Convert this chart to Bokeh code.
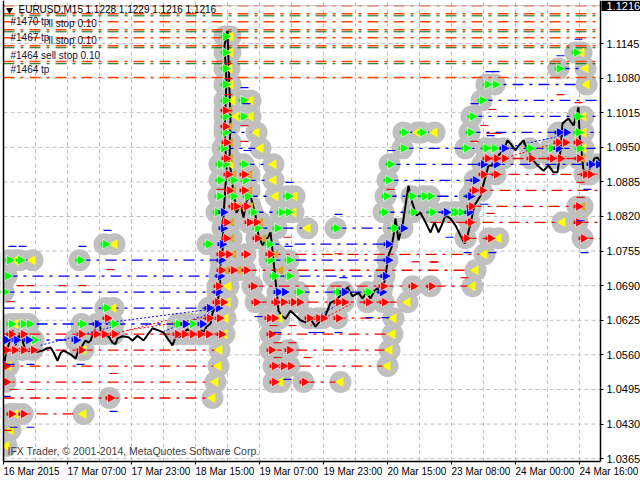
from bokeh.plotting import figure
from bokeh.models import FixedTicker, Label, Range1d
from bokeh.embed import file_html
from bokeh.resources import INLINE

symbol_text = "EURUSD,M15"
ohlc_text = "1.1228 1.1229 1.1216 1.1216"
footer_text = "IFX Trader, \u00a9 2001-2014, MetaQuotes Software Corp."
y_ticks = [1.1145,1.1080,1.1015,1.0950,1.0885,1.0820,1.0755,1.0690,1.0625,1.0560,1.0495,1.0430,1.0365]
x_tick_pos = [3,67,131,195,259,323,387,451,515,579]
x_tick_labels = ["16 Mar 2015","17 Mar 07:00","17 Mar 23:00","18 Mar 15:00","19 Mar 07:00","19 Mar 23:00","20 Mar 15:00","23 Mar 08:00","24 Mar 00:00","24 Mar 16:00"]
x_grid = [3,35,67,99,131,163,195,227,259,291,323,355,387,419,451,483,515,547,579]

close_x = [3,5,8,12,15,18,22,25,30,37,42,46,50,53,57,60,63,66,70,75,78,82,85,88,90,94,97,100,103,108,112,115,117,122,128,132,137,143,148,152,158,163,167,172,175,180,187,191,197,201,203,206,210,212,215,217,220,219,222,223,226,224,226,224,227,228,230,229,232,236,240,243,246,250,255,258,262,265,268,270,272,275,278,281,285,290,295,300,305,310,315,320,325,330,335,340,347,352,358,362,366,370,374,377,381,385,388,391,393,395,398,402,405,408,411,416,420,425,430,434,438,441,445,450,455,460,464,467,470,474,480,484,488,494,498,503,507,510,515,518,523,527,533,537,543,548,553,557,560,562,568,573,578,579,581,583,587,590,594,597,600]
close_p = [1.0531,1.0559,1.0578,1.0606,1.0578,1.0596,1.0587,1.0568,1.0568,1.0566,1.0568,1.0572,1.0574,1.0565,1.0549,1.0563,1.0568,1.0565,1.0561,1.0553,1.0568,1.0578,1.0587,1.0583,1.0587,1.0606,1.0625,1.0610,1.0596,1.0595,1.0583,1.0580,1.0591,1.0595,1.0593,1.0587,1.0596,1.0587,1.0600,1.0610,1.0606,1.0602,1.0591,1.0578,1.0593,1.0595,1.0608,1.0604,1.0598,1.0606,1.0602,1.0613,1.0619,1.0638,1.0653,1.0662,1.0687,1.0719,1.0756,1.0822,1.0906,1.0982,1.1075,1.1141,1.1169,1.1113,1.1000,1.0925,1.0878,1.0827,1.0841,1.0818,1.0850,1.0859,1.0822,1.0784,1.0766,1.0775,1.0782,1.0790,1.0756,1.0700,1.0643,1.0634,1.0628,1.0643,1.0634,1.0625,1.0621,1.0628,1.0613,1.0625,1.0634,1.0658,1.0662,1.0672,1.0687,1.0670,1.0677,1.0666,1.0677,1.0666,1.0681,1.0685,1.0672,1.0709,1.0747,1.0762,1.0784,1.0816,1.0775,1.0803,1.0841,1.0878,1.0850,1.0822,1.0827,1.0809,1.0790,1.0809,1.0790,1.0803,1.0822,1.0816,1.0803,1.0784,1.0769,1.0784,1.0807,1.0841,1.0859,1.0888,1.0916,1.0916,1.0935,1.0944,1.0963,1.0957,1.0944,1.0953,1.0963,1.0944,1.0925,1.0916,1.0906,1.0916,1.0903,1.0903,1.0944,1.0995,1.1004,1.0991,1.1025,1.0972,1.0944,1.0906,1.0903,1.0912,1.0929,1.0931,1.0920]

orange_levels = [1.1216,1.1201,1.1186,1.1171,1.1156,1.1141,1.1111,1.1081]
green_levels = [1.1197,1.1167,1.1137,1.1107]

green_rows = [1.1158,1.1128,1.1098,1.1068,1.1038,1.1008,1.0978,1.0948,1.0918,1.0888,1.0858,1.0828,1.0798,1.0768,1.0738,1.0708,1.0678,1.0648,1.0618,1.0588]
green_pos = [[224],[224,575],[224,558],[224,486,494],[224,242,481],[224,242,471,577],[224,403,421,469,577],[222,402,465,485,493,529,550,578],[219,224,243,389],[219,232,244,387],[218,232,246,287,385,411,423,429],[216,252,280,287,383,412,431,452,455,460],[256,276,335,393],[104,207,268],[8,19,79,269,288],[6,273,288],[3,298,337,367],[105],[10,22,28,81,113,177,191],[33]]

blue_rows = [1.0978,1.0948,1.0918,1.0888,1.0858,1.0828,1.0798,1.0768,1.0738,1.0708,1.0678,1.0648,1.0618,1.0588]
blue_pos = [[558,565],[503,557],[482,495,590,597],[474],[469],[222,445,468],[222,402],[221,387],[220,387],[219,384],[217,277,283,343,381],[208,217],[96,184,201],[5,15,27,75]]

red_rows = [1.1019,1.0989,1.0959,1.0929,1.0899,1.0869,1.0839,1.0809,1.0779,1.0749,1.0719,1.0689,1.0659,1.0629,1.0599,1.0569,1.0539,1.0509,1.0479,1.0449]
red_pos = [[224],[224],[225,557,564,577],[225,486,495,503,530,551,559,578],[227,243,482,495,584,589],[228,243,473,481],[232,235,245,470,577],[225,248,255,469,577],[225,256,465,489,582],[220,227,245,269],[220,232,245],[217,252,382,412,430],[216,222,255,275,282,292,298,337,343,367,383],[106,208,218,268,273,308,317,322,337],[10,22,80,95,103,113,176,183,191,199,207,220,270],[5,13,22,32,80,270,288],[5,273,282,289],[5,273,303],[109],[10,22]]

yellow_rows = [1.1158,1.1128,1.1098,1.1068,1.1038,1.1008,1.0978,1.0948,1.0918,1.0888,1.0858,1.0828,1.0809,1.0798,1.0779,1.0768,1.0749,1.0738,1.0719,1.0689,1.0659,1.0648,1.0629,1.0618,1.0599,1.0569,1.0539,1.0509,1.0479,1.0449,1.0419,1.0389]
yellow_pos = [[230],[230,581],[229,585],[230,586],[232,250],[236,250,583],[256,417,434,583],[260,583],[230,273],[273],[275,294],[293],[562],[307],[498],[114],[484],[15,32],[475],[228,472],[227,407],[113],[225,279,393],[15],[224,392],[83,219,389],[8,218,387],[215,280,340],[212],[15,83],[10],[6]]

gold_rows = [1.1019,1.0989,1.0959,1.0929,1.0899,1.0869,1.0839,1.0809,1.0779,1.0749,1.0719]
gold_pos = [[229],[229],[230],[230,582],[233,249],[233,249],[238,250,582],[231,260],[231,263],[233,275],[226,238,280]]

buy_line_p = [1.1128,1.1098,1.1068,1.1038,1.1038,1.1008,1.1008,1.0978,1.0978,1.0978,1.0978,1.0948,1.0948,1.0918,1.0918,1.0888,1.0888,1.0858,1.0858,1.0858,1.0828,1.0828,1.0798,1.0798,1.0768,1.0768,1.0738,1.0738,1.0738,1.0708,1.0708,1.0678,1.0678,1.0648,1.0618,1.0588]
buy_line_a = [575,558,486,224,481,224,471,224,403,421,469,222,402,243,389,244,387,246,287,385,252,383,256,335,104,268,8,79,269,6,273,3,298,3,10,3]
buy_line_b = [581,585,586,232,600,236,600,256,417,434,600,260,600,273,600,273,474,275,294,469,293,468,307,402,114,387,32,220,387,219,384,217,381,217,201,75]

sell_line_p = [1.0959,1.0929,1.0899,1.0869,1.0839,1.0809,1.0809,1.0779,1.0779,1.0749,1.0719,1.0689,1.0659,1.0629,1.0629,1.0599,1.0599,1.0569,1.0569,1.0539,1.0539,1.0509,1.0509,1.0509,1.0479,1.0449,1.0419]
sell_line_a = [557,486,482,473,470,430,577,465,582,269,245,252,255,268,308,3,270,3,270,3,273,3,273,303,3,10,3]
sell_line_b = [581,582,600,600,577,562,600,498,600,484,475,472,407,279,393,224,392,219,389,218,387,215,280,340,212,83,10]

blue_mark_x = [12,22,82,107,489,495,560,578,474,490,244,246,247,391,289,338,288,369,385,343,258,277,312,320,338,287,484,467,492,449,587,584,580,113,6,30,13,80,10,30]
blue_mark_p = [1.0764,1.0764,1.0764,1.0794,1.1092,1.1092,1.1122,1.1153,1.1032,1.0972,1.1062,1.1032,1.0944,1.0944,1.0884,1.0824,1.0764,1.0630,1.0630,1.0705,1.0632,1.0602,1.0602,1.0602,1.0602,1.0514,1.0843,1.0752,1.0752,1.0781,1.0871,1.0752,1.0812,1.0454,1.0482,1.0424,1.0424,1.0542,1.0542,1.0542]
red_mark_x = [110,30,20,62,82,10,492,560,578,484,490,497,474,228,228,228,228,244,244,220,390,338,415,433,273,292,277,292,277,307,287,490,434,464,580,580,113,30,13,7]
red_mark_p = [1.0720,1.0690,1.0690,1.0690,1.0690,1.0660,1.1021,1.1049,1.1034,1.0991,1.0976,1.0976,1.0961,1.1107,1.1079,1.1049,1.1019,1.0991,1.0961,1.0871,1.0871,1.0750,1.0735,1.0735,1.0615,1.0615,1.0583,1.0583,1.0555,1.0555,1.0781,1.0826,1.0734,1.0705,1.0856,1.0884,1.0525,1.0495,1.0495,1.0418]

diag_blue_x0 = [40,96,163,200,503,310]
diag_blue_p0 = [1.0578,1.0618,1.0604,1.0630,1.0948,1.0625]
diag_blue_x1 = [117,220,200,217,562,345]
diag_blue_p1 = [1.0615,1.0648,1.0632,1.0648,1.0972,1.0662]
diag_red_x0 = [110,127,503,310]
diag_red_p0 = [1.0598,1.0606,1.0929,1.0615]
diag_red_x1 = [167,207,557,350]
diag_red_p1 = [1.0625,1.0630,1.0959,1.0655]

note_text = ["#1470 tp","ll stop 0.10","#1467 tp","ll stop 0.10","#1464 sell stop 0.10","#1464 tp"]
note_x = [10,48,10,48,10,10]
note_p = [1.1186,1.1182,1.1156,1.1151,1.1122,1.1096]

def flat(rows, pos):
    xs, ps = [], []
    for r, row in zip(rows, pos):
        for x in row:
            xs.append(x); ps.append(r)
    return xs, ps

FONT = "Liberation Sans"
P_BOTTOM = 1.0360
P_TOP = 1.12258
X_LEFT = 3
X_RIGHT = 600
p = figure(width=640, height=480, output_backend="svg", toolbar_location=None,
           x_range=Range1d(0, 640), y_range=Range1d(1.03240, P_TOP),
           y_axis_location="right", min_border_left=0, min_border_right=0,
           min_border_top=0, min_border_bottom=0, margin=(0, 0, 0, 0),
           background_fill_color="white", border_fill_color="white", outline_line_color=None)
p.xgrid.visible = False; p.ygrid.visible = False

GRID = "#C0C0C0"
p.segment(x_grid, [P_BOTTOM]*len(x_grid), x_grid, [P_TOP]*len(x_grid), line_color=GRID, line_dash="4 3")
p.segment([X_LEFT]*len(y_ticks), y_ticks, [X_RIGHT]*len(y_ticks), y_ticks, line_color=GRID, line_dash="4 3")

ax = p.yaxis[0]
ax.fixed_location = X_RIGHT
ax.bounds = (P_BOTTOM, P_TOP)
ax.ticker = FixedTicker(ticks=y_ticks)
ax.major_label_overrides = {t: f"{t:.4f}" for t in y_ticks}
ax.major_label_text_font = FONT; ax.major_label_text_font_size = "11px"; ax.major_label_text_color = "black"
ax.major_tick_out = 3; ax.major_tick_in = 0; ax.minor_tick_out = 0; ax.minor_tick_in = 0
ax.major_label_standoff = 3; ax.axis_line_color = "black"; ax.axis_line_width = 1.5; ax.major_tick_line_color = "black"

bx = p.xaxis[0]
bx.fixed_location = P_BOTTOM
bx.bounds = (X_LEFT, X_RIGHT)
bx.ticker = FixedTicker(ticks=x_tick_pos)
bx.major_label_overrides = {t: "" for t in x_tick_pos}
bx.major_tick_out = 3; bx.major_tick_in = 0; bx.minor_tick_out = 0; bx.minor_tick_in = 0
bx.axis_line_color = "black"; bx.axis_line_width = 1.5; bx.major_tick_line_color = "black"

for lab, x in zip(x_tick_labels, x_tick_pos):
    p.add_layout(Label(x=x, y=9, y_units="screen", text=lab, text_font=FONT, text_font_size="10px",
                       text_color="black", text_baseline="middle", level="overlay"))

gx, gp = flat(green_rows, green_pos)
bxs, bp = flat(blue_rows, blue_pos)
rx, rp = flat(red_rows, red_pos)
yx, yp = flat(yellow_rows, yellow_pos)
ox, op = flat(gold_rows, gold_pos)

p.scatter(gx+bxs+rx+yx+ox, gp+bp+rp+yp+op, marker="circle", size=22, fill_color="#C0C0C0", line_color=None)

n = len(orange_levels)
p.segment([X_LEFT]*n, orange_levels, [X_RIGHT]*n, orange_levels, line_color="#FF4500", line_width=1.5, line_dash="11 6 3 6")
n = len(green_levels)
p.segment([X_LEFT]*n, green_levels, [X_RIGHT]*n, green_levels, line_color="#006400", line_width=1.0, line_dash="11 6 3 6")
p.segment([X_LEFT], [1.1216], [X_RIGHT], [1.1216], line_color="#C0C0C0")

p.segment(buy_line_a, buy_line_p, buy_line_b, buy_line_p, line_color="#0000FF", line_width=1.3, line_dash="11 6 3 6")
p.segment(sell_line_a, sell_line_p, sell_line_b, sell_line_p, line_color="#FF0000", line_width=1.3, line_dash="11 6 3 6")
p.segment(diag_blue_x0, diag_blue_p0, diag_blue_x1, diag_blue_p1, line_color="#0000FF", line_dash="2 2")
p.segment(diag_red_x0, diag_red_p0, diag_red_x1, diag_red_p1, line_color="#FF0000", line_dash="2 2")

p.line(close_x, close_p, line_color="black", line_width=2)

p.scatter(yx, yp, marker="triangle", size=10, angle=1.5708, fill_color="#FFFF00", line_color=None)
p.scatter(ox, op, marker="triangle", size=9, angle=1.5708, fill_color="#DAA520", line_color=None)

def arrows(xs, ps, color):
    p.segment([x-4 for x in xs], ps, xs, ps, line_color=color, line_width=3.5)
    p.scatter([x+1 for x in xs], ps, marker="triangle", size=10, angle=-1.5708, fill_color=color, line_color="white", line_width=0.6)

arrows(gx, gp, "#00FF00")
arrows(bxs, bp, "#0000FF")
arrows(rx, rp, "#FF0000")

p.scatter(blue_mark_x, blue_mark_p, marker="dash", size=8, line_color="#0000FF", line_width=1.2)
p.scatter(red_mark_x, red_mark_p, marker="dash", size=8, line_color="#FF0000", line_width=1.2)

# mask what spills over the chart window's left and right borders
p.quad(left=[0, X_RIGHT], right=[X_LEFT, 640], bottom=[1.0324, 1.0324], top=[P_TOP, P_TOP], fill_color="white", line_color=None)
p.segment([X_LEFT], [P_BOTTOM], [X_LEFT], [P_TOP], line_color="black", line_width=1.5)
# price tag
p.quad(left=[601], right=[640], bottom=[1.1206], top=[P_TOP], fill_color="black", line_color=None)

for t, x, y in zip(note_text, note_x, note_p):
    p.add_layout(Label(x=x, y=y, text=t, text_font=FONT, text_font_size="10px", text_color="#101030", text_baseline="middle", level="overlay"))

p.add_layout(Label(x=18, y=1.1208, text=symbol_text, text_font=FONT, text_font_size="10px", text_color="black", text_baseline="middle", level="overlay"))
p.add_layout(Label(x=85, y=1.1208, text=ohlc_text, text_font=FONT, text_font_size="10px", text_color="black", text_baseline="middle", level="overlay"))
p.add_layout(Label(x=7, y=1.0380, text=footer_text, text_font=FONT, text_font_size="10.5px", text_color="#404040", text_baseline="middle", level="overlay"))
p.scatter([9], [1.1208], marker="inverted_triangle", size=7, fill_color="black", line_color=None)
p.add_layout(Label(x=606, y=1.1216, text="1.1216", text_font=FONT, text_font_size="11px", text_color="white",
                   text_baseline="middle", level="overlay"))

open("out.html", "w").write(file_html(p, INLINE))
